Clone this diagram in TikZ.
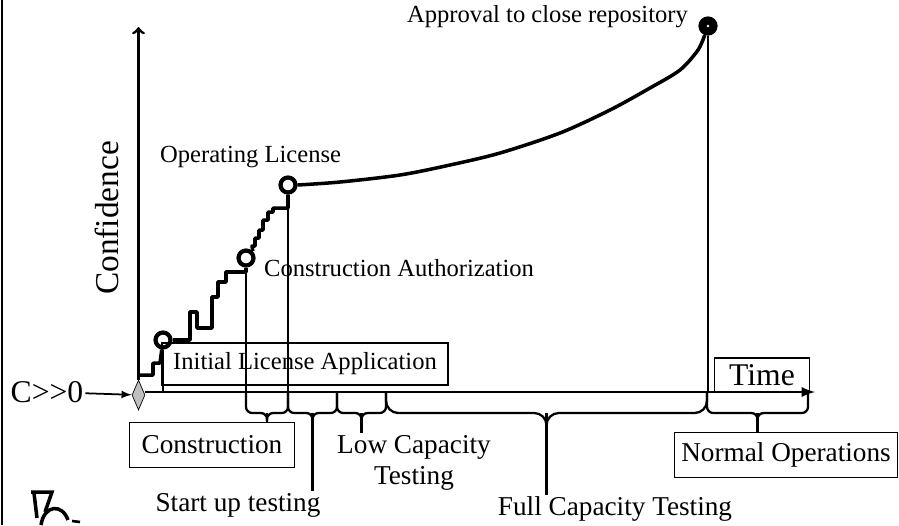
\documentclass[tikz,border=0pt]{standalone}
\usepackage{fontspec}
\setmainfont{Liberation Serif}
\usetikzlibrary{shapes.geometric}

\tikzset{
    axis/.style={line width=1.6pt},
    curve/.style={line width=2pt, line join=round},
    drop/.style={line width=0.8pt},
    brace/.style={line width=1.3pt, rounded corners=3.5pt},
    lbl/.style={font=\fontsize{14}{16}\selectfont, inner sep=1pt},
    phase/.style={font=\fontsize{15.5}{17.6}\selectfont, inner sep=1pt},
    phase box/.style={phase, draw, line width=0.8pt},
    milestone/.style={circle, draw, line width=2.4pt, fill=white, minimum size=0.3cm, inner sep=0pt,
        path picture={\fill (path picture bounding box.center) circle (0.7pt);}},
    final milestone/.style={milestone, fill=black,
        path picture={\fill[white] (path picture bounding box.center) circle (0.8pt);}},
}

% brace under the time axis, its tip running down to a label
\newcommand\PhaseBrace[4][3.5pt]{%
    \coordinate (#4Tip) at ({(#2+#3)/2},413);
    \draw[brace, rounded corners=#1] (#2,392) |- (#4Tip) -- +(0,8);
    \draw[brace, rounded corners=#1] (#3,392) |- (#4Tip) -- +(0,8);
    \draw[brace] (#4Tip) -- (#4Tip |- #4.north);
}

\begin{document}
\begin{tikzpicture}[x=0.02cm, y=-0.02cm]
    \useasboundingbox (0,0) rectangle (899,525);
    \draw[line width=1.2pt] (2,0) -- (2,525);

    % axes
    \coordinate (Origin) at (138.5,392);
    \node[diamond, draw, fill=gray!50, minimum width=0.26cm, minimum height=0.6cm, inner sep=0pt] (start) at (138.5,395) {};
    \node[font=\fontsize{18}{20}\selectfont, inner sep=1pt] (cond) at (47,392) {C>\kern0pt>\kern0pt0};
    \draw[line width=1pt, -latex] (cond) -- (start);
    \coordinate (TimeEnd) at (815,392);
    \draw[axis, -latex] (start.east |- Origin) -- (TimeEnd);
    \draw[axis, ->] (start.north) -- (138.5,27);
    \node[rotate=90, font=\fontsize{19}{21}\selectfont] (conf) at (107,218) {Confidence};
    \node[draw, line width=0.8pt, minimum width=1.9cm, minimum height=0.68cm,
        font=\fontsize{18}{20}\selectfont] (time) at (762,375) {Time};

    % milestones
    \node[milestone] (il) at (163,340) {};
    \node[milestone] (ca) at (246,258) {};
    \node[milestone] (ol) at (288,185) {};
    \node[final milestone] (ap) at (708,26) {};
    \node[lbl, anchor=west] (olLabel) at (158,157) {Operating License};
    \node[lbl, anchor=west] (caLabel) at (262,268) {Construction Authorization};
    \node[lbl, anchor=west] (apLabel) at (405,17) {Approval to close repository};
    \node[lbl, draw, line width=0.8pt, minimum width=5.72cm, minimum height=0.84cm] (ila) at (305,364) {Initial License Application};

    % confidence curve
    \draw[curve] (140,375) -- (153,375) -- (153,363) -- (160,363) -- (il);
    \draw[curve] (il) -- (190,340) -- (190,312) -- (197,312) -- (197,328) -- (212,328) -- (212,297)
        -- (218,297) -- (218,282) -- (226,282) -- (226,272) -- (246,272) -- (ca);
    \draw[curve] (ca.north east) -- (252,246) -- (255,246) -- (255,238) -- (259,238) -- (259,230)
        -- (263,230) -- (263,220) -- (268,220) -- (268,212) -- (273,212) -- (273,208) -- (288,208) -- (ol);
    \draw[curve] plot[smooth] coordinates {(ol.east) (340,182) (400,175) (450,165) (500,153)
        (560,133) (610,110) (650,88) (680,70) (698,50) (ap.-110)};

    \foreach \m in {il,ca,ol,ap}
        \draw[drop] (\m) -- (\m |- Origin);

    % phases
    \node[phase box, minimum width=3.3cm, minimum height=0.9cm] (construction) at (212,445) {Construction};
    \node[phase] (startup) at (238,505) {Start up testing};
    \node[phase, align=center] (low) at (414,463) {Low Capacity\\Testing};
    \node[phase] (full) at (615,509) {Full Capacity Testing};
    \node[phase box, minimum width=4.46cm, minimum height=0.9cm] (normal) at (786,455) {Normal Operations};

    \PhaseBrace{246}{288}{construction}
    \PhaseBrace{288}{337}{startup}
    \PhaseBrace{337}{386}{low}
    \PhaseBrace[7pt]{386}{707}{full}
    \PhaseBrace{707}{808}{normal}

    % corner sketch
    \draw[line width=2pt] (31,492) -- (52,492) -- (45,512);
    \draw[line width=2pt] (34,493) -- (37,518);
    \draw[line width=2pt] (41,525) .. controls (44,505) and (62,503) .. (68,520);
    \draw[line width=1.5pt] (72,521) -- (80,522);
\end{tikzpicture}
\end{document}
